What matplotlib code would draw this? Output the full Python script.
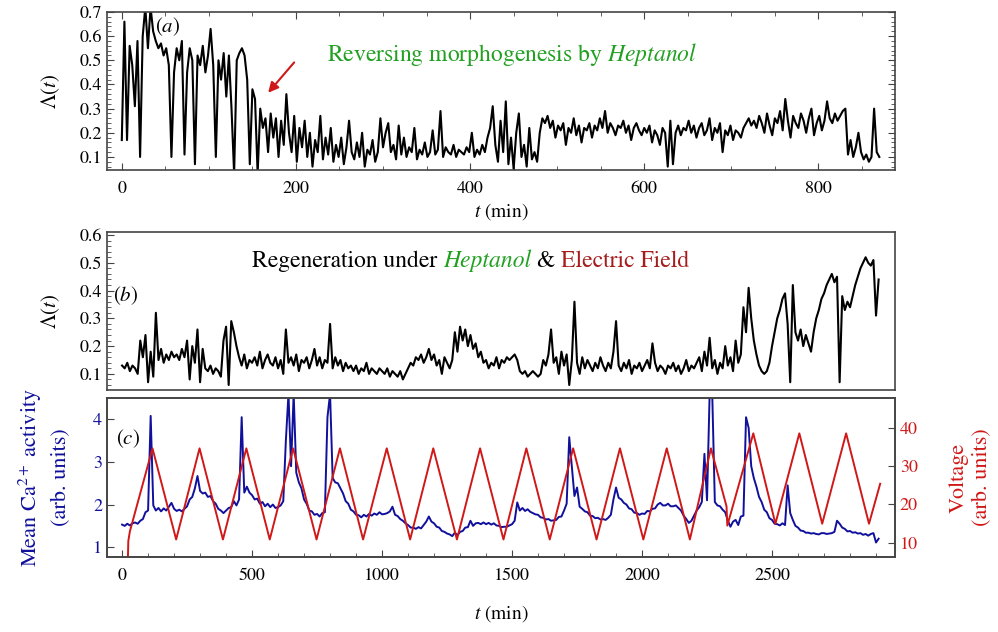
import numpy as np
import matplotlib
matplotlib.use("Agg")
import matplotlib.pyplot as plt
from matplotlib.ticker import MultipleLocator

plt.rcParams['font.family'] = 'STIXGeneral'
plt.rcParams['mathtext.fontset'] = 'stix'

# ---- panel (a): Lambda(t) under Heptanol, one sample every 3 min ----
t_a = np.arange(0, 871, 3)
lam_a = [
    0.17, 0.66, 0.17, 0.56, 0.48, 0.31, 0.58, 0.10, 0.60, 0.72,
    0.55, 0.72, 0.62, 0.58, 0.55, 0.57, 0.52, 0.55, 0.48, 0.10,
    0.45, 0.55, 0.50, 0.58, 0.11, 0.45, 0.55, 0.50, 0.07, 0.52,
    0.48, 0.56, 0.45, 0.52, 0.63, 0.48, 0.10, 0.50, 0.42, 0.53,
    0.35, 0.52, 0.30, 0.03, 0.50, 0.53, 0.55, 0.52, 0.42, 0.07,
    0.38, 0.34, 0.03, 0.30, 0.22, 0.26, 0.12, 0.28, 0.18, 0.26,
    0.10, 0.25, 0.15, 0.36, 0.20, 0.12, 0.27, 0.08, 0.22, 0.14,
    0.25, 0.10, 0.20, 0.06, 0.17, 0.12, 0.27, 0.09, 0.18, 0.11,
    0.22, 0.08, 0.15, 0.10, 0.18, 0.07, 0.14, 0.25, 0.12, 0.09,
    0.16, 0.10, 0.20, 0.06, 0.13, 0.11, 0.17, 0.08, 0.12, 0.26,
    0.14, 0.20, 0.24, 0.12, 0.15, 0.09, 0.23, 0.11, 0.18, 0.10,
    0.14, 0.12, 0.22, 0.09, 0.13, 0.11, 0.16, 0.10, 0.12, 0.21,
    0.11, 0.13, 0.29, 0.10, 0.14, 0.12, 0.11, 0.15, 0.10, 0.13,
    0.12, 0.11, 0.14, 0.12, 0.20, 0.10, 0.13, 0.11, 0.15, 0.12,
    0.18, 0.22, 0.31, 0.15, 0.08, 0.25, 0.12, 0.33, 0.07, 0.18,
    0.05, 0.20, 0.28, 0.10, 0.15, 0.06, 0.22, 0.09, 0.12, 0.08,
    0.20, 0.26, 0.24, 0.27, 0.22, 0.25, 0.18, 0.23, 0.21, 0.24,
    0.15, 0.22, 0.20, 0.26, 0.19, 0.23, 0.16, 0.22, 0.21, 0.24,
    0.18, 0.23, 0.21, 0.26, 0.22, 0.29, 0.20, 0.24, 0.22, 0.19,
    0.23, 0.22, 0.25, 0.20, 0.23, 0.17, 0.22, 0.24, 0.21, 0.19,
    0.22, 0.20, 0.23, 0.16, 0.21, 0.19, 0.15, 0.22, 0.20, 0.06,
    0.25, 0.07, 0.20, 0.23, 0.19, 0.22, 0.21, 0.25, 0.20, 0.23,
    0.18, 0.22, 0.24, 0.19, 0.21, 0.26, 0.17, 0.22, 0.20, 0.24,
    0.12, 0.21, 0.19, 0.23, 0.17, 0.21, 0.20, 0.18, 0.22, 0.24,
    0.26, 0.23, 0.25, 0.22, 0.27, 0.24, 0.20, 0.28, 0.23, 0.19,
    0.26, 0.24, 0.29, 0.21, 0.34, 0.25, 0.18, 0.27, 0.24, 0.22,
    0.28, 0.25, 0.20, 0.26, 0.30, 0.19, 0.24, 0.27, 0.21, 0.25,
    0.33, 0.26, 0.24, 0.28, 0.25, 0.27, 0.29, 0.30, 0.11, 0.17,
    0.10, 0.14, 0.20, 0.12, 0.09, 0.11, 0.08, 0.10, 0.30, 0.12,
    0.10,
]

# ---- panel (b): Lambda(t) under Heptanol & electric field, every 10 min ----
t_b = np.arange(0, 2911, 10)
lam_b = [
    0.13, 0.12, 0.14, 0.11, 0.13, 0.12, 0.10, 0.22, 0.16, 0.24,
    0.07, 0.18, 0.09, 0.32, 0.15, 0.19, 0.14, 0.17, 0.15, 0.18,
    0.16, 0.17, 0.15, 0.19, 0.16, 0.22, 0.08, 0.20, 0.14, 0.26,
    0.07, 0.19, 0.12, 0.11, 0.13, 0.10, 0.12, 0.11, 0.09, 0.22,
    0.27, 0.06, 0.29, 0.25, 0.20, 0.16, 0.13, 0.17, 0.12, 0.15,
    0.14, 0.16, 0.13, 0.18, 0.12, 0.15, 0.17, 0.14, 0.13, 0.16,
    0.12, 0.15, 0.10, 0.26, 0.14, 0.16, 0.13, 0.17, 0.11, 0.15,
    0.14, 0.16, 0.12, 0.15, 0.19, 0.13, 0.16, 0.12, 0.15, 0.14,
    0.28, 0.12, 0.16, 0.13, 0.15, 0.11, 0.14, 0.12, 0.13, 0.11,
    0.13, 0.10, 0.12, 0.11, 0.14, 0.10, 0.12, 0.11, 0.10, 0.12,
    0.11, 0.10, 0.12, 0.09, 0.11, 0.10, 0.09, 0.11, 0.08, 0.10,
    0.12, 0.14, 0.13, 0.16, 0.15, 0.17, 0.14, 0.16, 0.19, 0.15,
    0.17, 0.13, 0.15, 0.10, 0.16, 0.14, 0.12, 0.15, 0.25, 0.18,
    0.27, 0.22, 0.26, 0.20, 0.24, 0.19, 0.21, 0.16, 0.18, 0.14,
    0.15, 0.12, 0.14, 0.13, 0.16, 0.12, 0.15, 0.14, 0.16, 0.15,
    0.16, 0.17, 0.15, 0.11, 0.10, 0.11, 0.09, 0.10, 0.11, 0.10,
    0.09, 0.10, 0.15, 0.13, 0.17, 0.26, 0.14, 0.16, 0.10, 0.18,
    0.13, 0.17, 0.06, 0.15, 0.36, 0.14, 0.10, 0.16, 0.12, 0.15,
    0.13, 0.11, 0.14, 0.12, 0.16, 0.13, 0.11, 0.14, 0.12, 0.18,
    0.29, 0.13, 0.11, 0.14, 0.12, 0.15, 0.10, 0.13, 0.12, 0.14,
    0.11, 0.13, 0.15, 0.12, 0.21, 0.14, 0.11, 0.13, 0.12, 0.10,
    0.13, 0.12, 0.14, 0.11, 0.13, 0.10, 0.12, 0.15, 0.11, 0.13,
    0.12, 0.14, 0.16, 0.11, 0.18, 0.13, 0.23, 0.12, 0.15, 0.10,
    0.14, 0.12, 0.20, 0.13, 0.16, 0.11, 0.22, 0.14, 0.17, 0.34,
    0.25, 0.41, 0.30, 0.22, 0.17, 0.13, 0.11, 0.10, 0.11, 0.14,
    0.20, 0.25, 0.30, 0.33, 0.37, 0.39, 0.28, 0.07, 0.42, 0.25,
    0.22, 0.26, 0.20, 0.24, 0.21, 0.18, 0.25, 0.30, 0.33, 0.37,
    0.39, 0.42, 0.44, 0.46, 0.43, 0.45, 0.07, 0.38, 0.33, 0.36,
    0.34, 0.38, 0.42, 0.45, 0.48, 0.50, 0.52, 0.50, 0.49, 0.51,
    0.31, 0.44,
]

# ---- panel (c): mean Ca2+ activity, every 10 min ----
t_c = np.arange(0, 2911, 10)
calcium = [
    1.53, 1.50, 1.55, 1.51, 1.56, 1.58, 1.55, 1.62, 1.66, 1.82,
    1.86, 4.08, 1.98, 1.86, 1.92, 1.84, 1.91, 1.86, 1.95, 2.04,
    1.90, 1.85, 1.88, 1.84, 1.90, 1.96, 2.12, 2.18, 2.38, 2.67,
    2.32, 2.26, 2.28, 2.18, 2.20, 2.08, 2.02, 1.90, 1.86, 1.80,
    1.86, 1.92, 1.94, 2.08, 1.98, 2.12, 4.05, 2.28, 2.42, 2.28,
    2.22, 2.12, 2.14, 2.02, 2.06, 1.96, 2.02, 1.94, 2.00, 1.92,
    1.94, 1.98, 2.08, 3.50, 4.60, 2.90, 4.60, 2.75, 2.52, 2.38,
    2.12, 2.02, 1.86, 1.84, 1.76, 1.78, 1.72, 1.80, 1.82, 4.05,
    4.60, 2.62, 2.52, 2.50, 2.38, 2.26, 2.08, 2.02, 1.88, 1.84,
    1.76, 1.75, 1.70, 1.76, 1.72, 1.78, 1.74, 1.79, 1.76, 1.82,
    1.77, 1.78, 1.80, 1.84, 1.95, 1.76, 1.73, 1.66, 1.62, 1.56,
    1.52, 1.46, 1.46, 1.43, 1.47, 1.44, 1.52, 1.60, 1.72, 1.60,
    1.56, 1.48, 1.46, 1.38, 1.36, 1.32, 1.30, 1.26, 1.34, 1.28,
    1.36, 1.38, 1.46, 1.47, 1.62, 1.50, 1.56, 1.57, 1.54, 1.58,
    1.54, 1.57, 1.53, 1.56, 1.51, 1.50, 1.47, 1.48, 1.48, 1.51,
    1.54, 1.62, 2.05, 1.86, 1.92, 1.85, 1.89, 1.83, 1.80, 1.77,
    1.76, 1.70, 1.69, 1.65, 1.66, 1.62, 1.63, 1.64, 1.71, 1.72,
    1.86, 2.02, 3.58, 2.90, 2.20, 2.40, 1.95, 1.90, 1.84, 1.82,
    1.74, 1.73, 1.68, 1.69, 1.65, 1.66, 1.64, 1.69, 1.76, 2.12,
    2.40, 2.16, 2.12, 2.04, 2.00, 1.91, 1.89, 1.81, 1.80, 1.76,
    1.79, 1.78, 1.85, 1.84, 1.90, 1.91, 2.00, 2.04, 1.98, 1.98,
    2.02, 1.96, 1.96, 1.98, 1.92, 1.86, 1.74, 1.66, 1.57, 1.62,
    1.74, 1.86, 1.94, 2.06, 3.19, 2.10, 4.60, 4.60, 2.06, 1.98,
    1.96, 1.88, 1.82, 1.62, 1.48, 1.60, 1.64, 1.52, 1.72, 1.74,
    4.05, 3.80, 2.90, 2.62, 2.42, 2.18, 2.06, 1.88, 1.82, 1.68,
    1.64, 1.55, 1.54, 1.51, 1.56, 1.52, 2.45, 1.80, 1.64, 1.50,
    1.46, 1.39, 1.38, 1.34, 1.34, 1.32, 1.33, 1.31, 1.30, 1.33,
    1.33, 1.31, 1.32, 1.33, 1.36, 1.62, 1.55, 1.46, 1.43, 1.37,
    1.38, 1.34, 1.35, 1.32, 1.33, 1.29, 1.31, 1.27, 1.31, 1.33,
    1.11, 1.20,
]

# applied voltage: corners of the triangle wave
volt_t = [22, 24, 30, 117, 208, 298, 388, 478, 568, 658, 748, 838, 927,
          1018, 1108, 1197, 1288, 1377, 1467, 1555, 1645, 1735, 1825, 1915,
          2005, 2095, 2184, 2265, 2325, 2328, 2428, 2513, 2605, 2693, 2785,
          2873, 2916]
volt_v = [5.0, 10.5, 13.0, 34.6, 10.9, 34.6, 10.9, 34.6, 10.9, 34.6, 10.9,
          34.6, 10.9, 34.6, 10.9, 34.6, 10.9, 34.6, 10.9, 34.6, 10.9, 34.6,
          10.9, 34.6, 10.9, 34.6, 10.9, 34.6, 19.5, 14.5, 38.5, 15.0, 38.5,
          15.0, 38.5, 15.0, 25.4]

green = '#22a022'
darkred = '#a51d1d'
blue = '#10109c'
red = '#d01818'
frame = '#444444'

fig = plt.figure(figsize=(9.98, 6.32), dpi=100)
x0, w = 107 / 998, 788 / 998
ax_a = fig.add_axes([x0, 1 - 170 / 632, w, 158 / 632])
ax_b = fig.add_axes([x0, 1 - 390 / 632, w, 158 / 632])
ax_c = fig.add_axes([x0, 1 - 557 / 632, w, 159 / 632])
ax_v = ax_c.twinx()

for ax in (ax_a, ax_b, ax_c, ax_v):
    for s in ax.spines.values():
        s.set_color(frame)
        s.set_linewidth(1.2)
    ax.tick_params(which='both', direction='in', labelsize=13, colors=frame,
                   labelcolor='black')
    ax.tick_params(which='major', length=5)
    ax.tick_params(which='minor', length=3)
    ax.tick_params(axis='x', pad=8)

# (a)
ax_a.plot(t_a, lam_a, color='black', lw=1.5)
ax_a.set_xlim(-17, 888)
ax_a.set_ylim(0.046, 0.7)
ax_a.xaxis.set_major_locator(MultipleLocator(200))
ax_a.xaxis.set_minor_locator(MultipleLocator(50))
ax_a.yaxis.set_major_locator(MultipleLocator(0.1))
ax_a.yaxis.set_minor_locator(MultipleLocator(0.02))
ax_a.yaxis.set_major_formatter(lambda v, p: f'{v:.1f}')
ax_a.tick_params(which='both', top=True, right=True)
ax_a.set_xlabel('$t$ (min)', fontsize=14, labelpad=3)
ax_a.set_ylabel(r'$\Lambda(t)$', fontsize=15, labelpad=13)
ax_a.text(0.061, 0.91, '$(a)$', transform=ax_a.transAxes, fontsize=15,
          va='center')
ax_a.text(0.279, 0.728, r'Reversing morphogenesis by $\mathit{Heptanol}$',
          transform=ax_a.transAxes, fontsize=17, color=green, va='center')
ax_a.annotate('', xy=(166, 0.357), xytext=(200, 0.50),
              arrowprops=dict(arrowstyle='-|>', color=red, lw=1.5,
                              mutation_scale=15))

# (b)
ax_b.plot(t_b, lam_b, color='black', lw=1.5)
ax_b.set_xlim(-58, 2973)
ax_b.set_ylim(0.042, 0.611)
ax_b.yaxis.set_major_locator(MultipleLocator(0.1))
ax_b.yaxis.set_minor_locator(MultipleLocator(0.02))
ax_b.yaxis.set_major_formatter(lambda v, p: f'{v:.1f}')
ax_b.tick_params(axis='x', which='both', bottom=False, labelbottom=False)
ax_b.set_ylabel(r'$\Lambda(t)$', fontsize=15, labelpad=13)
ax_b.text(0.008, 0.595, '$(b)$', transform=ax_b.transAxes, fontsize=15,
          va='center')

# title of (b) in pieces of different colour, placed one after another
renderer = fig.canvas.get_renderer()
pieces = [('Regeneration under ', 'black', 'normal'),
          ('Heptanol', green, 'italic'),
          (' & ', 'black', 'normal'),
          ('Electric Field', darkred, 'normal')]
xpos = 0.184
for txt, col, sty in pieces:
    t = ax_b.text(xpos, 0.78, txt, transform=ax_b.transAxes, fontsize=17,
                  color=col, style=sty, va='baseline')
    xpos += t.get_window_extent(renderer).width / ax_b.bbox.width

# (c)
ax_c.plot(t_c, calcium, color=blue, lw=1.4)
ax_c.set_xlim(-58, 2973)
ax_c.set_ylim(0.77, 4.50)
ax_c.xaxis.set_major_locator(MultipleLocator(500))
ax_c.xaxis.set_minor_locator(MultipleLocator(100))
ax_c.yaxis.set_major_locator(MultipleLocator(1))
ax_c.tick_params(axis='y', labelcolor=blue)
ax_c.set_xlabel('$t$ (min)', fontsize=14, labelpad=14)
ax_c.set_ylabel('Mean Ca$^{2+}$ activity\n(arb. units)', fontsize=16,
                color=blue, labelpad=16, linespacing=1.45)
ax_c.text(0.012, 0.742, '$(c)$', transform=ax_c.transAxes, fontsize=15,
          va='center')

ax_v.plot(volt_t, volt_v, color=red, lw=1.4)
ax_v.set_ylim(6.34, 47.7)
ax_v.yaxis.set_major_locator(MultipleLocator(10))
ax_v.tick_params(axis='y', labelcolor=red)
ax_v.set_ylabel('Voltage\n(arb. units)', fontsize=16, color=red,
                labelpad=22, linespacing=1.3)

fig.savefig('out.png', dpi=100)
